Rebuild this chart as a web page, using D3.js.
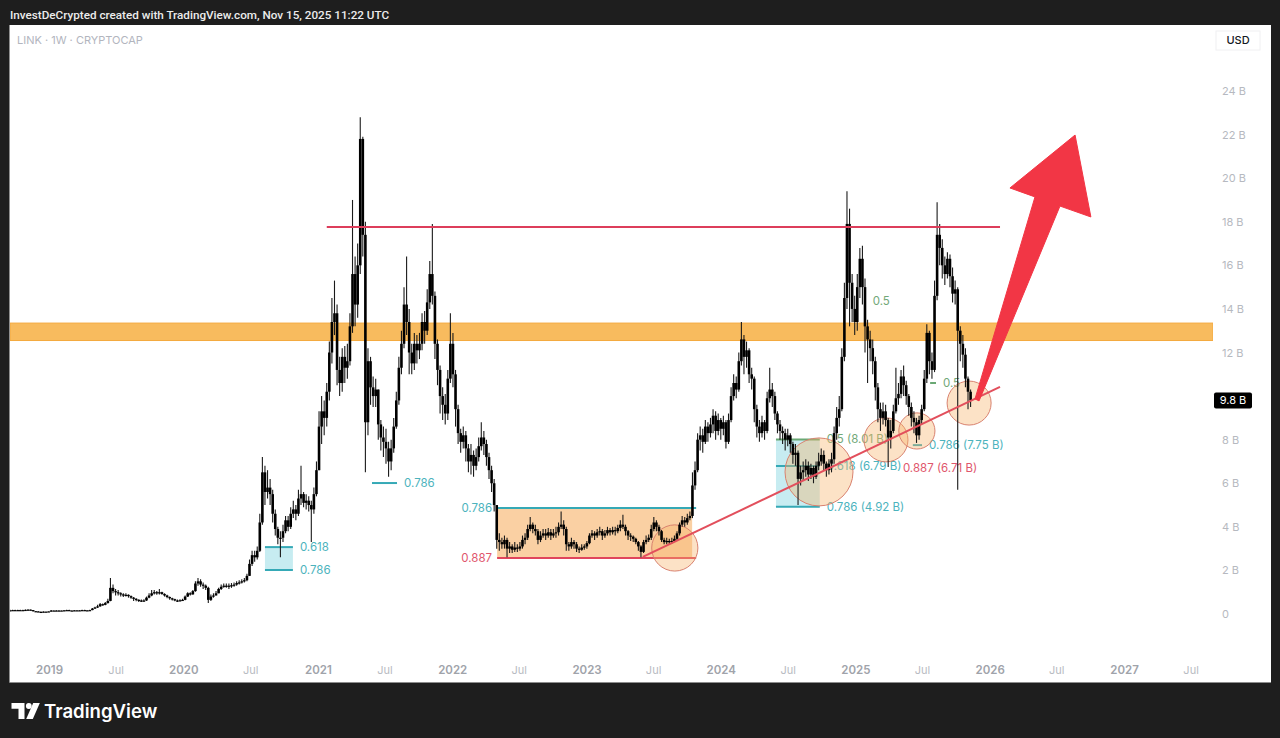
<!DOCTYPE html>
<html><head><meta charset="utf-8">
<script src="https://cdn.jsdelivr.net/npm/d3@7"></script>
<style>
html,body{margin:0;padding:0;background:#1e1e1e;}
svg{display:block;}
</style></head><body>
<svg id="chart" width="1280" height="738"></svg>
<script>
// ---------------- DATA ----------------
const headerText = "InvestDeCrypted created with TradingView.com, Nov 15, 2025 11:22 UTC";
const symbolText = "LINK · 1W · CRYPTOCAP";
const currencyText = "USD";
const startWeek = "2018-09-17";
const firstOpen = 0.16;
// weekly candles: [close, high, low] in billions USD (open = previous close)
const candles2018 = [[0.17,0.2,0.15],[0.18,0.2,0.16],[0.17,0.19,0.16],[0.18,0.2,0.16],[0.18,0.2,0.17],[0.18,0.19,0.17],[0.19,0.21,0.17],[0.2,0.22,0.18],[0.18,0.21,0.17],[0.13,0.18,0.12],[0.12,0.14,0.1],[0.1,0.13,0.09],[0.09,0.11,0.08],[0.11,0.12,0.08],[0.11,0.12,0.1],[0.12,0.14,0.11]];
const candles2019 = [[0.16,0.18,0.12],[0.16,0.17,0.15],[0.15,0.17,0.14],[0.16,0.17,0.14],[0.16,0.17,0.15],[0.17,0.18,0.15],[0.18,0.2,0.16],[0.16,0.19,0.15],[0.16,0.17,0.15],[0.17,0.18,0.15],[0.17,0.18,0.16],[0.16,0.18,0.15],[0.18,0.2,0.16],[0.17,0.19,0.16],[0.17,0.18,0.16],[0.18,0.19,0.16],[0.25,0.27,0.17],[0.3,0.33,0.24],[0.35,0.42,0.28],[0.45,0.5,0.33],[0.42,0.48,0.38],[0.5,0.55,0.4],[0.6,0.7,0.48],[1.2,1.65,0.58],[1.05,1.35,0.95],[1.0,1.15,0.85],[0.95,1.1,0.85],[0.9,1.0,0.8],[0.85,0.95,0.78],[0.88,0.95,0.8],[0.82,0.9,0.75],[0.75,0.85,0.7],[0.7,0.78,0.6],[0.65,0.72,0.58],[0.62,0.68,0.55],[0.6,0.66,0.55],[0.62,0.68,0.56],[0.75,0.8,0.6],[0.85,0.95,0.72],[0.95,1.1,0.82],[1.0,1.1,0.9],[0.95,1.05,0.88],[1.0,1.15,0.9],[0.92,1.02,0.88],[0.85,0.95,0.8],[0.78,0.88,0.72],[0.72,0.8,0.65],[0.68,0.75,0.62],[0.62,0.7,0.58],[0.6,0.66,0.55],[0.63,0.68,0.58],[0.65,0.7,0.6]];
const candles2020 = [[0.8,0.85,0.63],[0.95,1.0,0.78],[0.9,1.0,0.85],[1.05,1.1,0.88],[1.4,1.5,1.02],[1.5,1.65,1.3],[1.35,1.6,1.25],[1.3,1.45,1.15],[1.2,1.35,1.1],[0.65,1.25,0.5],[0.8,0.9,0.6],[0.85,0.95,0.75],[0.95,1.05,0.85],[1.15,1.2,0.95],[1.25,1.35,1.1],[1.3,1.4,1.2],[1.3,1.4,1.2],[1.28,1.4,1.15],[1.32,1.42,1.2],[1.35,1.45,1.25],[1.42,1.5,1.3],[1.45,1.55,1.35],[1.5,1.6,1.4],[1.55,1.65,1.45],[1.75,1.85,1.5],[2.3,2.5,1.75],[2.7,2.9,2.2],[2.6,2.9,2.4],[2.9,3.1,2.5],[4.2,4.6,2.85],[6.5,7.2,4.1],[5.6,6.8,5.0],[5.8,6.6,5.3],[5.5,6.2,5.0],[4.6,5.7,4.2],[3.9,4.8,3.6],[3.5,4.0,3.2],[3.5,3.8,2.6],[3.8,4.1,3.3],[4.3,4.5,3.7],[4.0,4.5,3.8],[4.6,4.9,3.9],[4.8,5.2,4.4],[4.6,5.0,4.3],[5.3,5.7,4.5],[5.5,6.8,5.0],[5.1,5.6,4.9],[5.2,5.5,4.8],[5.0,5.4,4.7],[4.8,5.2,3.3],[5.5,5.8,4.6],[6.6,7.0,5.4]];
const candles2021 = [[8.6,9.3,6.6],[9.3,10.0,7.8],[9.0,9.8,8.2],[10.2,10.6,8.6],[12.0,12.5,9.8],[13.4,14.5,11.5],[13.8,15.3,12.8],[11.2,14.2,10.5],[10.6,11.8,10.0],[11.8,12.2,10.2],[11.3,12.3,10.6],[11.6,12.4,10.8],[13.2,13.8,11.4],[15.6,19.0,12.9],[14.2,16.4,13.2],[16.0,17.0,13.6],[21.8,22.8,15.6],[17.4,21.9,16.4],[8.8,18.0,6.5],[11.6,12.2,8.2],[10.4,11.8,9.6],[10.0,10.9,9.5],[10.3,10.8,9.5],[8.7,10.0,8.0],[8.1,8.9,7.5],[7.9,8.6,7.2],[7.6,8.5,6.9],[7.0,7.9,6.3],[7.6,8.0,6.6],[8.6,9.0,7.4],[9.8,10.2,8.5],[11.3,11.8,9.6],[12.4,13.0,11.0],[14.2,15.0,12.2],[13.4,16.4,12.8],[12.0,14.0,11.0],[11.5,12.4,11.0],[12.4,12.9,11.2],[12.1,12.8,11.5],[12.4,12.9,11.7],[13.4,13.8,12.1],[13.0,13.9,12.4],[14.3,14.9,12.8],[15.6,16.2,14.0],[14.6,17.9,14.2],[12.4,14.8,11.7],[11.2,12.6,10.5],[10.0,11.4,9.2],[9.6,10.4,8.9],[9.2,10.1,8.7],[10.8,11.2,8.9],[12.4,13.8,10.6]];
const candles2022 = [[11.0,12.9,10.4],[9.4,11.2,8.6],[8.3,9.6,7.8],[7.9,8.5,7.4],[8.2,8.6,7.6],[7.6,8.4,7.0],[7.0,7.8,6.5],[7.3,7.8,6.4],[6.8,7.5,6.3],[7.2,7.6,6.6],[7.7,8.1,7.0],[8.1,8.8,7.5],[7.8,8.4,7.3],[7.2,8.0,6.8],[6.6,7.4,6.2],[6.0,6.8,5.6],[5.0,6.2,4.7],[3.4,4.9,3.0],[3.3,3.7,2.9],[3.2,3.5,3.0],[3.4,3.6,3.0],[3.0,3.5,2.6],[3.1,3.3,2.8],[2.95,3.2,2.8],[3.05,3.3,2.85],[3.0,3.2,2.85],[3.1,3.3,2.9],[3.4,3.6,3.0],[3.5,3.7,3.2],[3.9,4.1,3.4],[4.1,4.45,3.8],[3.9,4.2,3.7],[3.8,4.1,3.6],[3.4,3.9,3.2],[3.6,3.8,3.3],[3.7,3.9,3.5],[3.6,3.9,3.4],[3.75,3.95,3.5],[3.6,3.9,3.4],[3.7,3.9,3.5],[3.75,4.0,3.5],[4.0,4.2,3.6],[4.1,4.7,3.9],[3.9,4.3,3.6],[3.2,4.0,2.9],[3.1,3.3,2.9],[3.3,3.5,3.0],[3.2,3.4,3.0],[3.0,3.3,2.85],[2.95,3.1,2.8],[3.05,3.2,2.9],[3.1,3.2,2.95]];
const candles2023 = [[3.25,3.35,3.0],[3.6,3.7,3.2],[3.7,3.85,3.5],[3.6,3.8,3.4],[3.75,3.9,3.5],[3.8,4.0,3.6],[3.6,3.9,3.4],[3.7,3.85,3.5],[3.85,4.0,3.6],[3.75,3.95,3.6],[3.85,4.0,3.65],[3.8,4.0,3.6],[3.95,4.1,3.7],[4.1,4.3,3.8],[4.0,4.55,3.9],[3.8,4.1,3.6],[3.6,3.85,3.4],[3.55,3.7,3.35],[3.45,3.6,3.3],[3.3,3.5,3.2],[3.1,3.35,2.9],[2.85,3.15,2.6],[3.3,3.4,2.8],[3.4,3.6,3.2],[3.5,3.65,3.3],[3.9,4.1,3.4],[4.2,4.45,3.8],[4.0,4.3,3.8],[3.8,4.1,3.6],[3.4,3.85,3.3],[3.3,3.5,3.2],[3.35,3.5,3.2],[3.3,3.45,3.2],[3.35,3.5,3.25],[3.45,3.6,3.3],[3.7,3.8,3.4],[4.1,4.2,3.6],[4.3,4.5,4.0],[4.2,4.45,4.0],[4.4,4.6,4.1],[4.5,4.7,4.3],[5.9,6.5,4.4],[6.6,7.0,5.7],[8.0,8.3,6.5],[8.2,8.6,7.5],[7.9,8.5,7.4],[8.6,8.9,7.8],[8.3,8.8,7.9],[8.7,9.0,8.1],[9.1,9.4,8.3],[8.4,9.3,8.0],[8.9,9.2,8.2]];
const candles2024 = [[8.5,9.0,8.0],[8.8,9.1,8.2],[7.9,8.9,7.6],[8.9,9.2,7.8],[10.0,10.4,8.8],[10.6,11.0,9.8],[10.3,10.9,9.9],[11.6,12.0,10.2],[12.6,13.4,11.4],[11.8,12.8,11.0],[12.1,12.5,11.3],[11.0,12.2,10.6],[10.8,11.3,10.3],[9.4,10.9,8.8],[8.6,9.6,8.1],[8.3,8.9,7.9],[8.8,9.1,8.1],[8.4,8.9,8.0],[9.9,10.2,8.3],[10.3,11.3,9.7],[10.0,10.6,9.5],[9.2,10.2,8.9],[8.7,9.3,8.3],[8.4,8.9,8.0],[8.3,8.6,7.8],[8.0,8.5,7.5],[8.2,8.5,7.7],[7.8,8.3,7.4],[7.3,7.9,6.9],[7.4,7.8,6.8],[6.2,7.5,5.0],[6.5,6.8,5.9],[6.6,7.0,6.1],[6.8,7.1,6.3],[6.4,7.0,6.1],[6.7,6.9,6.2],[6.3,6.8,6.0],[6.8,7.0,6.2],[7.0,7.4,6.6],[7.3,7.6,6.8],[6.9,7.5,6.6],[6.6,7.0,6.3],[6.9,7.1,6.4],[7.1,7.4,6.5],[8.3,8.6,6.9],[9.0,9.5,8.0],[9.4,10.0,8.6],[11.8,12.2,9.3],[14.5,15.2,11.6],[17.9,19.4,14.0],[15.2,18.6,13.2],[14.0,15.6,13.4],[13.4,14.6,12.8]];
const candles2025 = [[15.0,15.6,13.0],[16.3,16.8,14.5],[15.0,16.9,14.2],[13.2,15.4,12.0],[12.6,13.5,10.6],[12.2,13.0,11.6],[11.6,12.6,11.0],[10.4,11.8,9.8],[9.4,10.6,8.8],[9.0,9.7,8.4],[9.3,9.7,8.7],[8.9,9.6,8.6],[8.1,9.0,6.75],[8.4,8.9,7.6],[9.3,9.6,8.3],[9.9,11.3,9.2],[10.1,10.6,9.6],[10.9,11.2,9.9],[10.5,11.4,10.0],[10.0,10.7,9.6],[9.5,10.1,9.1],[9.0,9.7,8.6],[8.8,9.3,8.3],[8.2,9.0,7.85],[8.9,9.1,8.0],[9.4,9.6,8.7],[10.8,11.2,9.3],[12.9,13.3,10.6],[11.6,13.0,11.0],[11.2,12.0,10.8],[14.6,15.3,11.1],[17.4,18.9,14.4],[16.8,17.9,16.0],[16.0,17.2,15.4],[15.6,16.4,15.1],[16.3,16.6,15.4],[15.5,16.5,15.0],[14.7,15.9,14.3],[14.9,15.3,14.2],[13.0,15.0,5.7],[12.4,13.2,11.6],[11.9,12.8,11.3],[10.8,12.2,10.4],[10.2,10.9,9.4],[9.8,10.3,9.5]];

const priceTicks = [0,2,4,6,8,12,14,16,18,20,22,24];
const timeTickDates = ["2019-01-01","2019-07-01","2020-01-01","2020-07-01","2021-01-01","2021-07-01","2022-01-01","2022-07-01","2023-01-01","2023-07-01","2024-01-01","2024-07-01","2025-01-01","2025-07-01","2026-01-01","2026-07-01","2027-01-01","2027-07-01"];
const timeTickLabels = ["2019","Jul","2020","Jul","2021","Jul","2022","Jul","2023","Jul","2024","Jul","2025","Jul","2026","Jul","2027","Jul"];

// drawings (time, value in B)
const resistanceLine = [["2021-01-25",17.76],["2026-01-29",17.76]];
const supplyBand = [12.55, 13.35];
const trendLine = [["2023-06-03",2.62],["2026-01-29",10.42]];
const rangeBoxDates = ["2022-05-03","2023-10-26"];
const rangeBoxLevels = [4.86, 2.57];
const fibZones = [["2020-08-10","2020-10-25",3.07,2.02],["2024-05-30","2024-09-26",8.01,4.92]];
// [start, end, level, label, colour key, label side, draw line]
const fibLevels = [
  ["2020-08-10","2020-10-25",3.07,"0.618","teal","right",1],
  ["2020-08-10","2020-10-25",2.02,"0.786","teal","right",1],
  ["2021-05-28","2021-08-04",6.01,"0.786","teal","right",1],
  ["2022-05-03","2023-10-26",4.86,"0.786","teal","left",1],
  ["2022-05-03","2023-10-26",2.57,"0.887","red","left",1],
  ["2024-05-30","2024-09-26",8.01,"0.5 (8.01 B)","green","right",1],
  ["2024-05-30","2024-09-26",6.79,"0.618 (6.79 B)","teal","right",1],
  ["2024-05-30","2024-09-26",4.92,"0.786 (4.92 B)","teal","right",1],
  ["2025-03-30","2025-04-21",6.71,"0.887 (6.71 B)","red","right",0],
  ["2025-06-06","2025-07-01",7.75,"0.786 (7.75 B)","teal","right",1],
  ["2025-01-13","2025-01-29",14.37,"0.5","green","right",0],
  ["2025-07-23","2025-08-08",10.6,"0.5","green","right",1]
];
// circles: [centre time, centre value, value at top edge]
const circles = [["2023-08-29",3.03,4.09],["2024-09-24",6.52,8.08],["2025-03-25",7.99,9.0],["2025-06-17",8.4,9.23],["2025-11-06",9.68,10.69]];
const arrowShape = [["2025-11-22",9.87],["2026-05-04",19.14],["2026-02-25",19.55],["2026-08-21",21.98],["2026-10-03",18.22],["2026-07-11",18.72],["2025-12-03",9.78]];

// ---------------- DRAW ----------------
const FONT = "Inter, 'Noto Sans', 'DejaVu Sans', sans-serif";
const parse = d3.utcParse("%Y-%m-%d");
const svg = d3.select("#chart");
svg.append("rect").attr("width",1280).attr("height",738).attr("fill","#1e1e1e");
svg.append("rect").attr("x",9.5).attr("y",25).attr("width",1261.5).attr("height",657.5).attr("fill","#ffffff");
svg.append("line").attr("x1",9.5).attr("x2",1271).attr("y1",682.5).attr("y2",682.5).attr("stroke","#8c8c8c").attr("stroke-width",1);

const x = d3.scaleUtc().domain([parse("2019-01-01"), parse("2027-01-01")]).range([49,1124]);
const y = d3.scaleLinear().domain([0,24]).range([614,91]);

svg.append("defs").append("clipPath").attr("id","plotclip")
  .append("rect").attr("x",10).attr("y",26).attr("width",1203).attr("height",634);
const plot = svg.append("g").attr("clip-path","url(#plotclip)");

const colors = {teal:"#35a9b6", tealText:"#4cb3bd", green:"#6aa874", greenText:"#72a878", red:"#e0455c", redText:"#e0566c"};

// supply band
plot.append("rect").attr("x",10).attr("width",1203)
  .attr("y",y(supplyBand[1])).attr("height",y(supplyBand[0])-y(supplyBand[1]))
  .attr("fill","#f8bb5e").attr("stroke","#f4a93f").attr("stroke-width",1);

// range box fill
plot.append("rect")
  .attr("x",x(parse(rangeBoxDates[0]))).attr("width",x(parse(rangeBoxDates[1]))-x(parse(rangeBoxDates[0]))-4)
  .attr("y",y(rangeBoxLevels[0])).attr("height",y(rangeBoxLevels[1])-y(rangeBoxLevels[0]))
  .attr("fill","rgba(245,150,50,0.45)");

// fib zone fills
plot.selectAll(".fz").data(fibZones).enter().append("rect")
  .attr("x",d=>x(parse(d[0]))).attr("width",d=>x(parse(d[1]))-x(parse(d[0])))
  .attr("y",d=>y(d[2])).attr("height",d=>y(d[3])-y(d[2]))
  .attr("fill","rgba(80,195,210,0.32)");

// fib level lines + labels
fibLevels.forEach(f=>{
  const x0=x(parse(f[0])), x1=x(parse(f[1])), yy=y(f[2]);
  const lc = f[4]==="teal"?colors.teal:(f[4]==="green"?colors.green:colors.red);
  const tc = f[4]==="teal"?colors.tealText:(f[4]==="green"?colors.greenText:colors.redText);
  if(f[6]) plot.append("line").attr("x1",x0).attr("x2",x1).attr("y1",yy).attr("y2",yy).attr("stroke",lc).attr("stroke-width",2);
  plot.append("text").attr("x",f[5]==="right"?x1+7:x0-5).attr("y",yy).attr("dy","0.35em")
    .attr("text-anchor",f[5]==="right"?"start":"end")
    .attr("font-family",FONT).attr("font-size",11.5).attr("fill",tc).text(f[3]);
});

// circles
plot.selectAll(".circ").data(circles).enter().append("circle")
  .attr("cx",d=>x(parse(d[0]))).attr("cy",d=>y(d[1])).attr("r",d=>y(d[1])-y(d[2]))
  .attr("fill","rgba(247,178,106,0.38)").attr("stroke","#d9826f").attr("stroke-width",1);

// candles
const rows = [].concat(candles2018,candles2019,candles2020,candles2021,candles2022,candles2023,candles2024,candles2025);
const t0 = parse(startWeek);
let prev = firstOpen;
const candles = rows.map((r,i)=>{const o=prev; prev=r[0];
  return {date:d3.utcDay.offset(t0,7*i), o:o, c:r[0], h:Math.max(r[1],o,r[0]), l:Math.min(r[2],o,r[0])};});
const cg = plot.append("g");
cg.selectAll(".wick").data(candles).enter().append("line")
  .attr("x1",d=>x(d.date)).attr("x2",d=>x(d.date))
  .attr("y1",d=>y(d.h)).attr("y2",d=>y(d.l)).attr("stroke","#1a1a1a").attr("stroke-width",1.1);
cg.selectAll(".body").data(candles).enter().append("rect")
  .attr("x",d=>x(d.date)-1.3).attr("width",2.6)
  .attr("y",d=>y(Math.max(d.o,d.c))).attr("height",d=>Math.max(1.2,Math.abs(y(d.o)-y(d.c))))
  .attr("fill","#000");

// lines
const lineGen = d3.line().x(d=>x(parse(d[0]))).y(d=>y(d[1]));
plot.append("path").attr("d",lineGen(resistanceLine)).attr("stroke","#dd3d5b").attr("stroke-width",2).attr("fill","none");
plot.append("path").attr("d",lineGen(trendLine)).attr("stroke","#e24f5c").attr("stroke-width",2).attr("fill","none");

// arrow
plot.append("path").attr("d",lineGen(arrowShape)+"Z").attr("fill","#f23645").attr("stroke","#f23645").attr("stroke-width",1).attr("stroke-linejoin","round");

// price axis
const yAxis = d3.axisRight(y).tickValues(priceTicks).tickFormat(v=>v===0?"0":v+" B").tickSize(0).tickPadding(0);
const ya = svg.append("g").attr("transform","translate(1222,0)").call(yAxis);
ya.select(".domain").remove();
ya.selectAll("text").attr("font-family",FONT).attr("font-size",11).attr("fill","#b6b9c0");

// last price badge
const last = candles[candles.length-1].c;
svg.append("rect").attr("x",1214).attr("y",y(last)-8).attr("width",38).attr("height",16).attr("rx",2).attr("fill","#000");
svg.append("text").attr("x",1233).attr("y",y(last)).attr("dy","0.35em").attr("text-anchor","middle")
  .attr("font-family",FONT).attr("font-size",11).attr("fill","#fff").text(d3.format(".1f")(last)+" B");

// time axis
const xAxis = d3.axisBottom(x).tickValues(timeTickDates.map(parse)).tickFormat((d,i)=>timeTickLabels[i]).tickSize(0).tickPadding(0);
const xa = svg.append("g").attr("transform","translate(0,666)").call(xAxis);
xa.select(".domain").remove();
xa.selectAll("text").attr("font-family",FONT)
  .attr("font-size",(d,i)=>timeTickLabels[i]==="Jul"?11:11.5)
  .attr("font-weight",(d,i)=>timeTickLabels[i]==="Jul"?400:600)
  .attr("fill",(d,i)=>timeTickLabels[i]==="Jul"?"#b8bbc2":"#a0a3aa");

// header texts
svg.append("text").attr("x",10).attr("y",18.5).attr("font-family","Roboto, "+FONT).attr("font-size",11.7).attr("font-weight",500).attr("fill","#ececec").text(headerText);
svg.append("text").attr("x",17).attr("y",44).attr("font-family",FONT).attr("font-size",11).attr("fill","#b2b5be").text(symbolText);
svg.append("rect").attr("x",1216).attr("y",31).attr("width",44).attr("height",19).attr("fill","#fff").attr("stroke","#f0f0f2");
svg.append("text").attr("x",1238).attr("y",44).attr("text-anchor","middle").attr("font-family",FONT).attr("font-size",11).attr("font-weight",500).attr("fill","#131722").text(currencyText);

// TradingView logo
const logo = svg.append("g").attr("fill","#ffffff");
logo.append("path").attr("d","M11.5,703 H24.5 V719 H18.5 V708.8 H11.5 Z");
logo.append("circle").attr("cx",28.8).attr("cy",706).attr("r",2.9);
logo.append("path").attr("d","M33.2,703 H39.8 L32.8,719 H26.2 Z");
svg.append("text").attr("x",44).attr("y",718).attr("font-family",FONT).attr("font-size",18.6).attr("font-weight",600).attr("fill","#ffffff").text("TradingView");
</script>
</body></html>
